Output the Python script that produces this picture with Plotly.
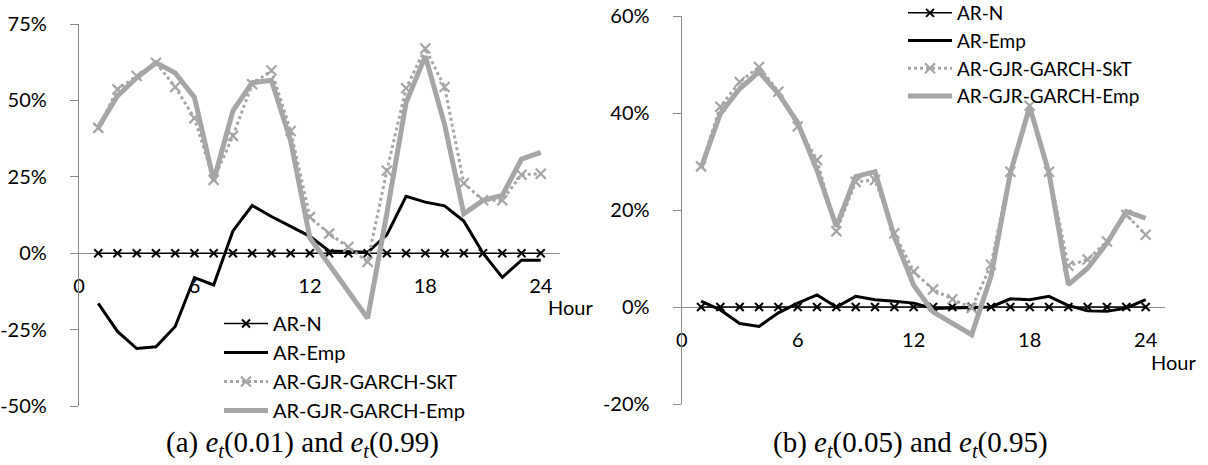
import plotly.graph_objects as go

W, H = 1208, 465

hours = [1, 2, 3, 4, 5, 6, 7, 8, 9, 10, 11, 12, 13, 14, 15, 16, 17, 18, 19, 20, 21, 22, 23, 24]
x_ticks = [0, 6, 12, 18, 24]
series_names = ["AR-N", "AR-Emp", "AR-GJR-GARCH-SkT", "AR-GJR-GARCH-Emp"]

# Panel (a): e_t(0.01) and e_t(0.99)  (values in %)
a_ar_n = [0, 0, 0, 0, 0, 0, 0, 0, 0, 0, 0, 0, 0, 0, 0, 0, 0, 0, 0, 0, 0, 0, 0, 0]
a_ar_emp = [-16.4, -25.6, -31.2, -30.6, -24.0, -8.0, -10.4, 7.3, 15.6, 12.0, 8.8, 5.5,
            0.7, 0.5, 0.3, 6.0, 18.6, 16.7, 15.5, 10.5, 0.0, -7.9, -2.3, -2.3]
a_gjr_skt = [41.0, 53.6, 58.0, 62.3, 54.4, 44.2, 24.0, 38.4, 55.3, 59.8, 40.0, 11.8,
             6.4, 2.0, -2.8, 27.0, 54.0, 67.0, 54.4, 22.9, 17.3, 17.3, 25.7, 26.0]
a_gjr_emp = [41.1, 51.5, 57.4, 62.3, 59.0, 51.0, 23.8, 46.6, 55.8, 56.6, 36.8, 5.0,
             -3.7, -12.4, -21.3, 13.0, 49.3, 64.5, 42.2, 12.9, 17.3, 18.9, 30.8, 33.0]
a_yticks = [-50, -25, 0, 25, 50, 75]
a_yticktext = ["-50%", "-25%", "0%", "25%", "50%", "75%"]

# Panel (b): e_t(0.05) and e_t(0.95)
b_ar_n = [0, 0, 0, 0, 0, 0, 0, 0, 0, 0, 0, 0, 0, 0, 0, 0, 0, 0, 0, 0, 0, 0, 0, 0]
b_ar_emp = [1.2, -0.6, -3.4, -4.0, -1.2, 0.8, 2.5, 0.0, 2.2, 1.5, 1.2, 0.8,
            -0.3, -0.2, 0.0, 0.0, 1.7, 1.5, 2.2, 0.3, -0.8, -0.9, -0.2, 1.5]
b_gjr_skt = [29.0, 41.3, 46.4, 49.5, 44.4, 37.2, 30.3, 15.6, 25.8, 26.2, 15.2, 7.3,
             3.6, 1.6, -0.2, 8.7, 27.9, 41.5, 27.9, 8.5, 9.8, 13.5, 19.0, 14.9]
b_gjr_emp = [28.6, 39.9, 45.0, 48.5, 44.0, 38.0, 28.2, 16.6, 26.9, 27.9, 14.5, 4.5,
             -1.0, -3.5, -5.7, 6.3, 27.6, 41.3, 27.6, 4.6, 8.0, 13.2, 19.7, 18.3]
b_yticks = [-20, 0, 20, 40, 60]
b_yticktext = ["-20%", "0%", "20%", "40%", "60%"]

captions = ["(a) <i>e<sub>t</sub></i>(0.01) and <i>e<sub>t</sub></i>(0.99)",
            "(b) <i>e<sub>t</sub></i>(0.05) and <i>e<sub>t</sub></i>(0.95)"]
x_title = "Hour"

BLACK = "#000000"
GRAY = "#A6A6A6"
AXIS = "#8C8C8C"
FONT = "Lato"

def px_x(p):
    return p / W

def px_y(p):
    return 1 - p / H

fig = go.Figure()

def add_panel(xa, ya, leg, data):
    ar_n, ar_emp, skt, gemp = data
    fig.add_trace(go.Scatter(x=hours, y=ar_n, name=series_names[0], mode="lines+markers",
                             line=dict(color=BLACK, width=1.5),
                             marker=dict(symbol="x-thin", size=8, line=dict(color=BLACK, width=2)),
                             xaxis=xa, yaxis=ya, legend=leg))
    fig.add_trace(go.Scatter(x=hours, y=ar_emp, name=series_names[1], mode="lines",
                             line=dict(color=BLACK, width=3),
                             xaxis=xa, yaxis=ya, legend=leg))
    fig.add_trace(go.Scatter(x=hours, y=skt, name=series_names[2], mode="lines+markers",
                             line=dict(color=GRAY, width=3, dash="dot"),
                             marker=dict(symbol="x-thin", size=10, line=dict(color=GRAY, width=2.2)),
                             xaxis=xa, yaxis=ya, legend=leg))
    fig.add_trace(go.Scatter(x=hours, y=gemp, name=series_names[3], mode="lines",
                             line=dict(color=GRAY, width=5),
                             xaxis=xa, yaxis=ya, legend=leg))

add_panel("x", "y", "legend", (a_ar_n, a_ar_emp, a_gjr_skt, a_gjr_emp))
add_panel("x2", "y2", "legend2", (b_ar_n, b_ar_emp, b_gjr_skt, b_gjr_emp))

# domains (pixel-derived)
a_xdom = [px_x(79), px_x(560)]
a_ydom = [px_y(406), px_y(24)]
b_xdom = [px_x(681.7), px_x(1165)]
b_ydom = [px_y(404), px_y(16)]

a_zero = a_ydom[0] + (0 - (-50)) / 125 * (a_ydom[1] - a_ydom[0])
b_zero = b_ydom[0] + (0 - (-20)) / 80 * (b_ydom[1] - b_ydom[0])

tickfont = dict(family=FONT, size=20, color="#000000")

def xaxis(dom, pos):
    return dict(domain=dom, range=[0, 25], anchor="free", position=pos,
                tickvals=x_ticks, showline=True, linecolor=AXIS, linewidth=1.3,
                ticks="", showgrid=False, zeroline=False, layer="below traces",
                tickfont=tickfont, ticklabelstandoff=15, automargin=False)

def yaxis(dom, rng, tv, tt, anchor):
    return dict(domain=dom, range=rng, tickvals=tv, ticktext=tt, anchor=anchor,
                showline=True, linecolor=AXIS, linewidth=1.3, ticks="outside",
                ticklen=8, tickcolor=AXIS, tickwidth=1.3, showgrid=False,
                zeroline=False, tickfont=tickfont, ticklabelstandoff=19,
                automargin=False)

fig.update_layout(
    width=W, height=H, margin=dict(l=0, r=0, t=0, b=0, autoexpand=False),
    paper_bgcolor="white", plot_bgcolor="white",
    xaxis=xaxis(a_xdom, a_zero),
    yaxis=yaxis(a_ydom, [-50, 75], a_yticks, a_yticktext, "x"),
    xaxis2=xaxis(b_xdom, b_zero),
    yaxis2=yaxis(b_ydom, [-20, 60], b_yticks, b_yticktext, "x2"),
    legend=dict(x=px_x(219), y=px_y(304), xanchor="left", yanchor="top",
                bgcolor="rgba(0,0,0,0)", font=dict(family=FONT, size=20, color="#000000"),
                tracegroupgap=0, itemwidth=44),
    legend2=dict(x=px_x(903), y=px_y(-6), xanchor="left", yanchor="top",
                 bgcolor="rgba(0,0,0,0)", font=dict(family=FONT, size=19, color="#000000"),
                 tracegroupgap=0, itemwidth=44),
    showlegend=True,
)

cap_font = dict(family="Liberation Serif", size=29, color="#000000")
fig.add_annotation(text=captions[0], x=px_x(164), y=px_y(444), xref="paper", yref="paper",
                   showarrow=False, font=cap_font, xanchor="left", yanchor="middle")
fig.add_annotation(text=captions[1], x=px_x(771), y=px_y(444), xref="paper", yref="paper",
                   showarrow=False, font=cap_font, xanchor="left", yanchor="middle")
fig.add_annotation(text=x_title, x=px_x(570), y=px_y(307), xref="paper", yref="paper",
                   showarrow=False, font=tickfont, xanchor="center", yanchor="middle")
fig.add_annotation(text=x_title, x=px_x(1173), y=px_y(362), xref="paper", yref="paper",
                   showarrow=False, font=tickfont, xanchor="center", yanchor="middle")

fig.write_html("out.html", config={"displayModeBar": False},
               post_script="document.body.style.margin='0';")
